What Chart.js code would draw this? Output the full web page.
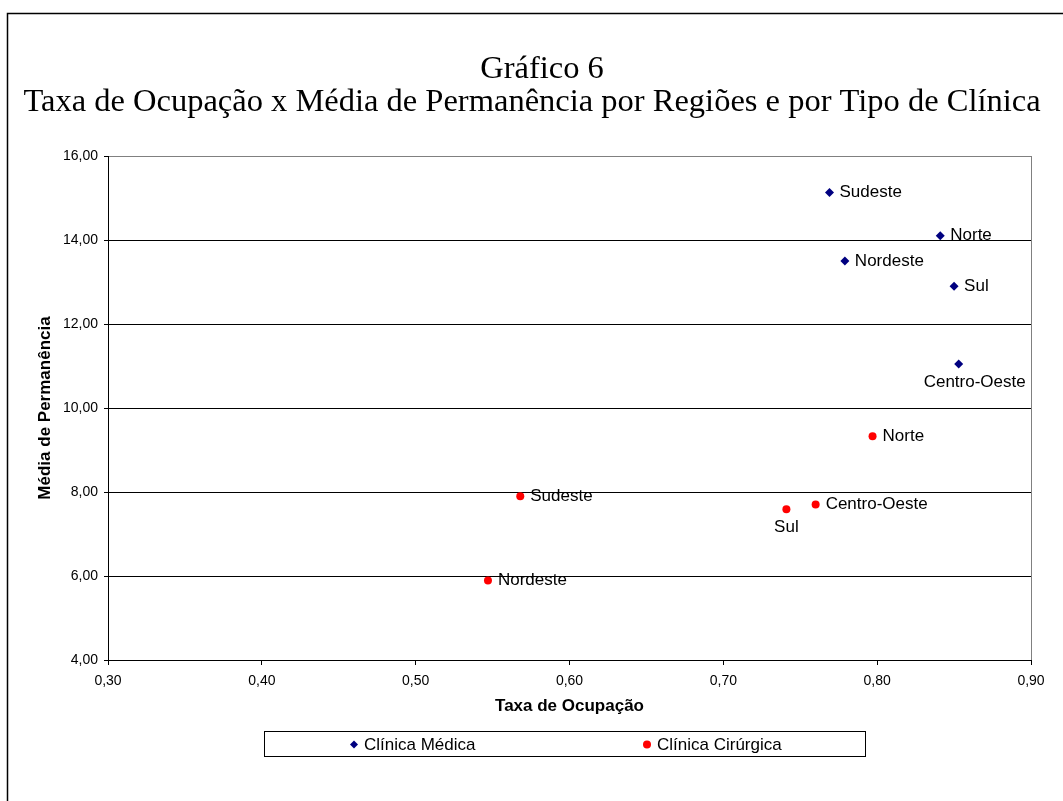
<!DOCTYPE html>
<html><head><meta charset="utf-8">
<script src="https://cdn.jsdelivr.net/npm/chart.js@4/dist/chart.umd.min.js"></script>
<style>html,body{margin:0;padding:0;background:#fff;overflow:hidden}canvas{display:block}</style>
</head><body>
<canvas id="c" width="1063" height="801"></canvas>
<script>
const titleLines = ['Gráfico 6', 'Taxa de Ocupação x Média de Permanência por Regiões e por Tipo de Clínica'];
const xAxisTitle = 'Taxa de Ocupação';
const yAxisTitle = 'Média de Permanência';
const seriesNames = ['Clínica Médica', 'Clínica Cirúrgica'];
const regions = ['Sudeste', 'Norte', 'Nordeste', 'Sul', 'Centro-Oeste'];
const medicaTaxa = [0.769, 0.841, 0.779, 0.850, 0.853];
const medicaMedia = [15.13, 14.10, 13.50, 12.90, 11.05];
const cirurgicaTaxa = [0.568, 0.797, 0.547, 0.741, 0.760];
const cirurgicaMedia = [7.90, 9.33, 5.89, 7.59, 7.70];
const xTickMin = 0.30, xTickMax = 0.90, xTickStep = 0.10;
const yTickMin = 4, yTickMax = 16, yTickStep = 2;

const SANS = "'Liberation Sans', Arial, sans-serif";
const SERIF = "'Liberation Serif', 'Times New Roman', serif";
const fmt = v => Number(v).toFixed(2).replace('.', ',');

const labelPlacement = [
  ['right', 'right', 'right', 'right', 'belowright'],
  ['right', 'right', 'right', 'below', 'right']
];

function drawMarker(ctx, style, color, x, y, r) {
  ctx.fillStyle = color;
  ctx.beginPath();
  if (style === 'rectRot') {
    ctx.moveTo(x, y - r); ctx.lineTo(x + r, y); ctx.lineTo(x, y + r); ctx.lineTo(x - r, y); ctx.closePath();
  } else {
    ctx.arc(x, y, r, 0, Math.PI * 2);
  }
  ctx.fill();
}

const decor = {
  id: 'decor',
  beforeDraw(chart) {
    const ctx = chart.ctx;
    ctx.save(); ctx.fillStyle = '#fff'; ctx.fillRect(0, 0, chart.width, chart.height); ctx.restore();
  },
  afterDraw(chart) {
    const ctx = chart.ctx;
    ctx.save();
    // outer chart border
    ctx.strokeStyle = '#000'; ctx.lineWidth = 1.5;
    ctx.beginPath(); ctx.moveTo(7.5, chart.height); ctx.lineTo(7.5, 13.5); ctx.lineTo(chart.width, 13.5); ctx.stroke();
    // title
    ctx.fillStyle = '#000';
    ctx.font = '32.5px ' + SERIF;
    ctx.textAlign = 'center'; ctx.textBaseline = 'alphabetic';
    ctx.fillText(titleLines[0], 542, 78);
    ctx.fillText(titleLines[1], 532, 111);
    // data labels
    ctx.font = '17px ' + SANS;
    ctx.textBaseline = 'middle';
    chart.data.datasets.forEach((ds, di) => {
      const meta = chart.getDatasetMeta(di);
      meta.data.forEach((pt, j) => {
        const p = labelPlacement[di][j];
        let x = pt.x, y = pt.y;
        if (p === 'right') { ctx.textAlign = 'left'; x += 10; }
        else { ctx.textAlign = 'center'; y += 18.5; if (p === 'belowright') x += 16; }
        ctx.fillText(regions[j], x, y);
      });
    });
    // legend
    ctx.strokeStyle = '#000'; ctx.lineWidth = 1;
    ctx.strokeRect(264.5, 731.5, 601, 25);
    const legendX = [354, 647];
    chart.data.datasets.forEach((ds, di) => {
      drawMarker(ctx, ds.pointStyle, ds.backgroundColor, legendX[di], 744.5, 4);
      ctx.fillStyle = '#000';
      ctx.textAlign = 'left'; ctx.textBaseline = 'middle';
      ctx.fillText(ds.label, legendX[di] + 10, 745);
    });
    ctx.restore();
  }
};

new Chart(document.getElementById('c'), {
  type: 'scatter',
  data: {
    datasets: [
      {
        label: seriesNames[0],
        data: regions.map((r, i) => ({ x: medicaTaxa[i], y: medicaMedia[i] })),
        pointStyle: 'rectRot', pointRadius: 4.5, backgroundColor: '#000080', borderColor: '#000080', borderWidth: 0
      },
      {
        label: seriesNames[1],
        data: regions.map((r, i) => ({ x: cirurgicaTaxa[i], y: cirurgicaMedia[i] })),
        pointStyle: 'circle', pointRadius: 4, backgroundColor: '#FF0000', borderColor: '#FF0000', borderWidth: 0
      }
    ]
  },
  options: {
    responsive: false, animation: false, devicePixelRatio: 1,
    layout: { padding: { left: 0, top: 156, right: 32, bottom: 81 } },
    plugins: { legend: { display: false }, title: { display: false }, tooltip: { enabled: false } },
    scales: {
      x: {
        type: 'linear', position: 'bottom', min: xTickMin, max: xTickMax,
        ticks: { stepSize: xTickStep, color: '#000', font: { family: SANS, size: 14 }, padding: 8, maxRotation: 0, autoSkip: false, callback: v => fmt(v) },
        grid: { drawOnChartArea: true, color: c => (c.tick && Math.abs(c.tick.value - xTickMax) < 1e-6) ? '#808080' : 'rgba(0,0,0,0)', tickColor: '#000', tickLength: 5, lineWidth: 1 },
        border: { display: true, color: '#000', width: 1 },
        title: { display: true, text: xAxisTitle, color: '#000', font: { family: SANS, size: 17, weight: 'bold' }, padding: { top: 0, bottom: 3 } },
        afterFit(s) { s.height = 60; }
      },
      y: {
        type: 'linear', position: 'left', min: yTickMin, max: yTickMax,
        ticks: { stepSize: yTickStep, color: '#000', font: { family: SANS, size: 14 }, padding: 6, callback: v => fmt(v) },
        grid: { drawOnChartArea: true, color: c => (c.tick && Math.abs(c.tick.value - yTickMax) < 1e-6) ? '#808080' : '#000', tickColor: '#000', tickLength: 4, lineWidth: 1 },
        border: { display: true, color: '#000', width: 1 },
        title: { display: true, text: yAxisTitle, color: '#000', font: { family: SANS, size: 17, weight: 'bold' }, padding: { top: 35, bottom: 0 } },
        afterFit(s) { s.width = 108; }
      }
    }
  },
  plugins: [decor]
});
</script>
</body></html>
